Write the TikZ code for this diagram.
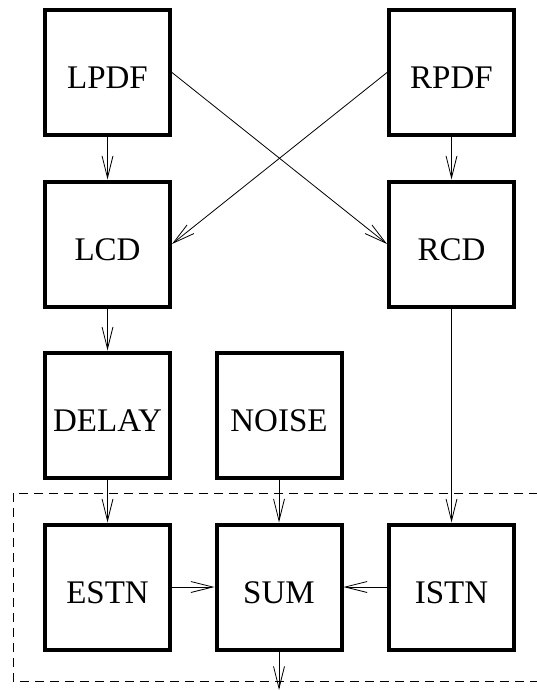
\documentclass[tikz,border=0pt]{standalone}
\usepackage{fontspec}
\setmainfont{Liberation Serif}
\usetikzlibrary{arrows.meta}
\begin{document}
\begin{tikzpicture}[x=1pt,y=-1pt,
  blk/.style={draw,line width=4pt,minimum width=125pt,minimum height=125pt,inner sep=0pt,
    font=\fontsize{33}{36}\selectfont,text height=32pt,text depth=0pt},
  conn/.style={line width=0.8pt,-{Straight Barb[length=22pt,width=11pt,line width=0.8pt]}},
  grp/.style={dash pattern=on 9pt off 6pt,line width=0.8pt}]
\useasboundingbox (0,0) rectangle (537,690);
\draw[grp] (13,493) rectangle (560,681);
\node[blk] (lpdf) at (107.5,72.5) {LPDF};
\node[blk] (rpdf) at (451.5,72.5) {RPDF};
\node[blk] (lcd) at (107.5,244) {LCD};
\node[blk] (rcd) at (451.5,244) {RCD};
\node[blk] (delay) at (107.5,415) {DELAY};
\node[blk] (noise) at (279,415) {NOISE};
\node[blk] (estn) at (107.5,587) {ESTN};
\node[blk] (sum) at (279,587) {SUM};
\node[blk] (istn) at (451.5,587) {ISTN};
\coordinate (out) at (279,690);
\draw[conn] (lpdf) -- (lcd);
\draw[conn] (rpdf) -- (rcd);
\draw[conn] (lpdf.east) -- (rcd.west);
\draw[conn] (rpdf.west) -- (lcd.east);
\draw[conn] (lcd) -- (delay);
\draw[conn] (rcd) -- (istn);
\draw[conn] (delay) -- (estn);
\draw[conn] (noise) -- (sum);
\draw[conn] (estn) -- (sum);
\draw[conn] (istn) -- (sum);
\draw[conn] (sum) -- (out);
\end{tikzpicture}
\end{document}
